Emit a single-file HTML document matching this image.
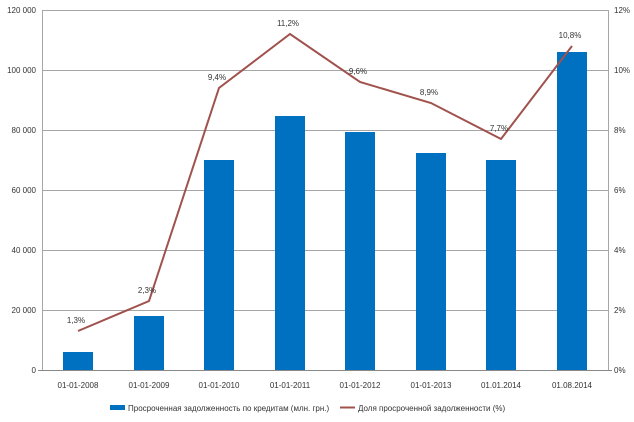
<!DOCTYPE html><html><head><style>body{margin:0;background:#fff}</style></head><body>
<svg width="634" height="417" xmlns="http://www.w3.org/2000/svg" font-family="Liberation Sans, sans-serif" font-size="8" fill="#333">
<g stroke="#a6a6a6" stroke-width="1">
<line x1="42" y1="10.5" x2="608" y2="10.5"/><line x1="42" y1="70.5" x2="608" y2="70.5"/><line x1="42" y1="130.5" x2="608" y2="130.5"/><line x1="42" y1="190.5" x2="608" y2="190.5"/><line x1="42" y1="250.5" x2="608" y2="250.5"/><line x1="42" y1="310.5" x2="608" y2="310.5"/>
<line x1="42.5" y1="10" x2="42.5" y2="370"/><line x1="608.5" y1="10" x2="608.5" y2="370"/>
<line x1="38" y1="370.5" x2="612" y2="370.5" stroke="#888"/>
</g>
<g fill="#0070c0">
<rect x="63" y="352" width="30" height="18"/><rect x="134" y="316" width="30" height="54"/><rect x="204" y="160" width="30" height="210"/><rect x="275" y="116" width="30" height="254"/><rect x="345" y="132" width="30" height="238"/><rect x="416" y="153" width="30" height="217"/><rect x="486" y="160" width="30" height="210"/><rect x="557" y="52" width="30" height="318"/>
</g>
<polyline fill="none" stroke="#a0524d" stroke-width="2" points="78,331 149,301 219,88 290,34 360,82 431,103 501,139 572,46"/>
<g text-anchor="end"><text x="36" y="13">120 000</text><text x="36" y="73">100 000</text><text x="36" y="133">80 000</text><text x="36" y="193">60 000</text><text x="36" y="253">40 000</text><text x="36" y="313">20 000</text><text x="36" y="373">0</text></g>
<g><text x="614" y="13">12%</text><text x="614" y="73">10%</text><text x="614" y="133">8%</text><text x="614" y="193">6%</text><text x="614" y="253">4%</text><text x="614" y="313">2%</text><text x="614" y="373">0%</text></g>
<g text-anchor="middle"><text x="78" y="388">01-01-2008</text><text x="149" y="388">01-01-2009</text><text x="219" y="388">01-01-2010</text><text x="290" y="388">01-01-2011</text><text x="360" y="388">01-01-2012</text><text x="431" y="388">01-01-2013</text><text x="501" y="388">01.01.2014</text><text x="572" y="388">01.08.2014</text>
<text x="76" y="323">1,3%</text><text x="147" y="293">2,3%</text><text x="217" y="80">9,4%</text><text x="288" y="26">11,2%</text><text x="358" y="74">9,6%</text><text x="429" y="95">8,9%</text><text x="499" y="131">7,7%</text><text x="570" y="38">10,8%</text></g>
<rect x="110" y="405" width="15" height="5" fill="#0070c0"/><text x="128" y="411">Просроченная задолженность по кредитам (млн. грн.)</text>
<line x1="340" y1="407.5" x2="355" y2="407.5" stroke="#a0524d" stroke-width="2"/><text x="358" y="411">Доля просроченной задолженности (%)</text>
</svg></body></html>
